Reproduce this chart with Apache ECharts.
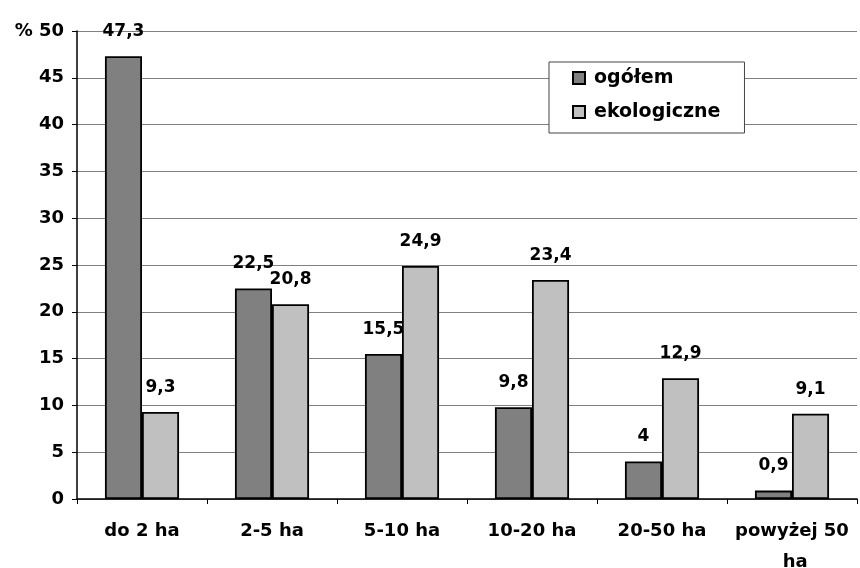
<!DOCTYPE html>
<html><head><meta charset="utf-8">
<script src="https://cdn.jsdelivr.net/npm/echarts@6/dist/echarts.min.js"></script>
<style>html,body{margin:0;padding:0;background:#fff;overflow:hidden}#c{width:860px;height:568px}</style>
</head><body><div id="c"></div>
<script>
const categories = ['do 2 ha', '2-5 ha', '5-10 ha', '10-20 ha', '20-50 ha', 'powyżej 50 ha'];
const ogolem = [47.3, 22.5, 15.5, 9.8, 4, 0.9];
const ekologiczne = [9.3, 20.8, 24.9, 23.4, 12.9, 9.1];
const seriesNames = ['ogółem', 'ekologiczne'];

const font = '"DejaVu Sans", sans-serif';
const fmt = v => String(v).replace('.', ',');
const labelCfg = {
  show: true, position: 'top', distance: 16,
  fontFamily: font, fontWeight: 'bold', fontSize: 17, color: '#000',
  formatter: p => fmt(p.value)
};
const chart = echarts.init(document.getElementById('c'));
chart.setOption({
  animation: false,
  grid: { left: 77, right: 3, top: 31, bottom: 69, containLabel: false, outerBoundsMode: 'none' },
  legend: {
    orient: 'vertical', left: 549, top: 62,
    padding: [6, 24, 11, 23], itemGap: 14,
    itemWidth: 12, itemHeight: 12, icon: 'rect',
    backgroundColor: '#fff', borderColor: '#444', borderWidth: 1,
    textStyle: { fontFamily: font, fontWeight: 'bold', fontSize: 19, color: '#000', lineHeight: 20, padding: [0, 0, 0, 4] },
    data: seriesNames
  },
  xAxis: {
    type: 'category', data: categories,
    axisLine: { lineStyle: { color: '#000', width: 1.5 } },
    axisTick: { show: true, length: 5, lineStyle: { color: '#000' } },
    axisLabel: {
      fontFamily: font, fontWeight: 'bold', fontSize: 18, color: '#000',
      margin: 17, lineHeight: 31, width: 126, overflow: 'break', interval: 0
    }
  },
  yAxis: {
    type: 'value', min: 0, max: 50, interval: 5,
    axisLine: { show: true, lineStyle: { color: '#000', width: 1.5 } },
    axisTick: { show: true, length: 5, lineStyle: { color: '#000' } },
    splitLine: { lineStyle: { color: '#808080', width: 1 } },
    axisLabel: {
      fontFamily: font, fontWeight: 'bold', fontSize: 18, color: '#000', margin: 13,
      formatter: v => v === 50 ? '% 50' : String(v)
    }
  },
  series: [
    { name: seriesNames[0], type: 'bar', data: ogolem, barWidth: '28.5%', barGap: '0%',
      itemStyle: { color: '#808080', borderColor: '#000', borderWidth: 1.8 }, label: labelCfg },
    { name: seriesNames[1], type: 'bar', data: ekologiczne, barWidth: '28.5%',
      itemStyle: { color: '#c0c0c0', borderColor: '#000', borderWidth: 1.8 }, label: labelCfg }
  ]
});
</script></body></html>
